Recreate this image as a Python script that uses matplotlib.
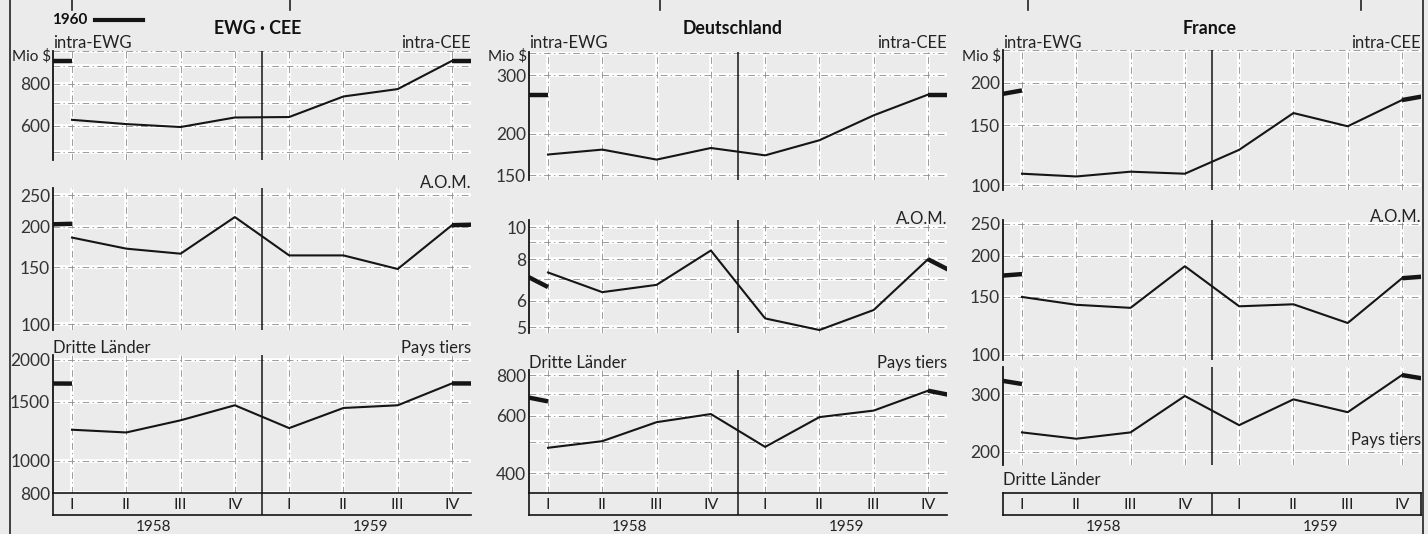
import matplotlib
matplotlib.use("Agg")
import matplotlib.pyplot as plt
from matplotlib.lines import Line2D
from matplotlib.ticker import NullLocator

plt.rcParams['font.family'] = ['Lato', 'DejaVu Sans']

# --- DATA (Mio $, quarterly 1958 I .. 1959 IV, plus 1960 I) ---
quarters = [1, 2, 3, 4, 5, 6, 7, 8]
quarter_labels = ["I", "II", "III", "IV", "I", "II", "III", "IV"]
years = ["1958", "1959"]

ewg_intra = [625, 607, 595, 635, 637, 733, 771, 935]
ewg_intra_1960 = 935
ewg_aom = [185, 171, 165, 214, 163, 163, 148, 202]
ewg_aom_1960 = 204
ewg_third = [1237, 1214, 1320, 1464, 1251, 1437, 1464, 1702]
ewg_third_1960 = 1700

de_intra = [173, 179, 167, 181, 172, 191, 227, 262]
de_intra_1960 = 262
de_aom = [7.3, 6.37, 6.7, 8.5, 5.31, 4.9, 5.63, 8.0]
de_aom_1960 = 6.6
de_third = [479, 502, 574, 608, 482, 595, 623, 717]
de_third_1960 = 665

fr_intra = [108, 106, 109.5, 108, 127, 163, 149, 178]
fr_intra_1960 = 190
fr_aom = [150, 142, 139, 186, 140.5, 142.5, 125, 171]
fr_aom_1960 = 176
fr_third = [229, 219, 229, 296, 241, 289, 264, 343]
fr_third_1960 = 322

# --- LAYOUT ---
W, H = 1428, 534
BG = '#ebebeb'
INK = '#151515'
XLIM = (0.65, 8.35)

fig = plt.figure(figsize=(W / 100, H / 100), dpi=100)
fig.patch.set_facecolor(BG)


def box(left, top, width, bottom):
    return [left / W, 1 - bottom / H, width / W, (bottom - top) / H]


def ftext(x, y, s, **kw):
    kw.setdefault('fontsize', 12)
    kw.setdefault('color', '#222')
    kw.setdefault('va', 'center')
    fig.text(x / W, 1 - y / H, s, **kw)


def grid_line(ax, v, horizontal=True):
    f = ax.axhline if horizontal else ax.axvline
    f(v, color='white', lw=2.6, zorder=1)
    f(v, color='#8c8c8c', lw=0.6, dashes=(8, 4, 1.5, 4), zorder=2)


def draw_panel(ax, values, v1960, ylim, ticks, grid):
    ax.set_facecolor('none')
    ax.set_yscale('log')
    ax.set_xlim(*XLIM)
    ax.set_ylim(*ylim)
    for g in grid:
        grid_line(ax, g)
    for q in quarters:
        grid_line(ax, q, horizontal=False)
    ax.axvline(4.5, color=INK, lw=1.1, zorder=3)
    ax.plot(quarters, values, color=INK, lw=1.5, zorder=4)
    # 1960: segment from 1959 IV to 1960 I, shown at both edges
    ax.plot([quarters[-1], quarters[-1] + 1], [values[-1], v1960],
            color=INK, lw=3.2, solid_capstyle='butt', zorder=5)
    ax.plot([quarters[0] - 1, quarters[0]], [values[-1], v1960],
            color=INK, lw=3.2, solid_capstyle='butt', zorder=5)
    for s in ['top', 'right', 'bottom']:
        ax.spines[s].set_visible(False)
    ax.spines['left'].set_color(INK)
    ax.spines['left'].set_linewidth(1.3)
    ax.set_xticks([])
    ax.yaxis.set_minor_locator(NullLocator())
    ax.set_yticks(ticks)
    ax.set_yticklabels([str(t) for t in ticks])
    ax.tick_params(axis='y', length=0, pad=2, labelsize=12.5, labelcolor='#333')


def draw_strip(ax, right_spine):
    ax.set_facecolor('none')
    ax.set_xlim(*XLIM)
    ax.set_ylim(0, 1)
    ax.set_xticks([])
    ax.set_yticks([])
    for s in ax.spines.values():
        s.set_color(INK)
        s.set_linewidth(1.2)
    ax.spines['right'].set_visible(right_spine)
    ax.axvline(4.5, color=INK, lw=1.1)
    for q, lab in zip(quarters, quarter_labels):
        ax.text(q, 0.45, lab, ha='center', va='center', fontsize=11.5, color='#222')
    ax.text(2.5, -0.55, years[0], ha='center', va='center', fontsize=11, color='#222')
    ax.text(6.5, -0.55, years[1], ha='center', va='center', fontsize=11, color='#222')


columns = [
    dict(left=53, title="EWG · CEE", tx=258,
         panels=[(ewg_intra, ewg_intra_1960, (475, 1000), [600, 800], [500, 600, 700, 800, 900, 1000], 51, 160),
                 (ewg_aom, ewg_aom_1960, (96, 263), [100, 150, 200, 250], [100, 150, 200, 250], 188, 330),
                 (ewg_third, ewg_third_1960, (800, 2070), [800, 1000, 1500, 2000], [800, 1000, 1500, 2000], 355, 493)]),
    dict(left=529, title="Deutschland", tx=733,
         panels=[(de_intra, de_intra_1960, (145, 352), [150, 200, 300], [150, 200, 300, 350], 52, 180),
                 (de_aom, de_aom_1960, (4.8, 10.5), [5, 6, 8, 10], [5, 6, 7, 8, 9, 10], 220, 333),
                 (de_third, de_third_1960, (348, 830), [400, 600, 800], [400, 500, 600, 700, 800], 370, 493)]),
    dict(left=1003, title="France", tx=1210,
         panels=[(fr_intra, fr_intra_1960, (96.7, 250), [100, 150, 200], [100, 150, 200, 250], 50, 190),
                 (fr_aom, fr_aom_1960, (96.5, 257), [100, 150, 200, 250], [100, 150, 200, 250], 220, 360),
                 (fr_third, fr_third_1960, (182, 363), [200, 300], [200, 300], 367, 465)]),
]
COL_W = 418

for ci, col in enumerate(columns):
    for vals, v60, ylim, ticks, grid, top, bottom in col['panels']:
        ax = fig.add_axes(box(col['left'], top, COL_W, bottom))
        draw_panel(ax, vals, v60, ylim, ticks, grid)
    sx = fig.add_axes(box(col['left'], 493, COL_W, 515))
    draw_strip(sx, right_spine=(ci == 2))
    ftext(col['tx'], 28, col['title'], ha='center', fontsize=12.8, fontweight='bold', color='#111')
    l, r = col['left'], col['left'] + COL_W
    ftext(l, 43, "intra-EWG", ha='left')
    ftext(r, 43, "intra-CEE", ha='right')
    ftext(l - 2, 56, "Mio $", ha='right', fontsize=11)

# series labels placed by column
ftext(471, 183, "A.O.M.", ha='right')
ftext(53, 348, "Dritte Länder", ha='left')
ftext(471, 348, "Pays tiers", ha='right')
ftext(947, 219, "A.O.M.", ha='right')
ftext(529, 363, "Dritte Länder", ha='left')
ftext(947, 363, "Pays tiers", ha='right')
ftext(1421, 217, "A.O.M.", ha='right')
ftext(1421, 440, "Pays tiers", ha='right')
ftext(1003, 480, "Dritte Länder", ha='left')

# legend for 1960
ftext(52, 20, "1960", ha='left', fontsize=11, fontweight='bold', color='#111')
fig.add_artist(Line2D([95 / W, 143 / W], [1 - 20 / H, 1 - 20 / H], color=INK, lw=3))

# outer frame and cut-off marks from the page above
fig.add_artist(Line2D([10 / W, 10 / W], [0, 1], color='#222', lw=1.2))
fig.add_artist(Line2D([1423 / W, 1423 / W], [0, 1], color='#222', lw=1.2))
for mx in [72, 290, 660, 1028, 1361]:
    fig.add_artist(Line2D([mx / W, mx / W], [1, 1 - 10 / H], color='#222', lw=1.2))

fig.savefig("out.png", dpi=100, facecolor=fig.get_facecolor())
